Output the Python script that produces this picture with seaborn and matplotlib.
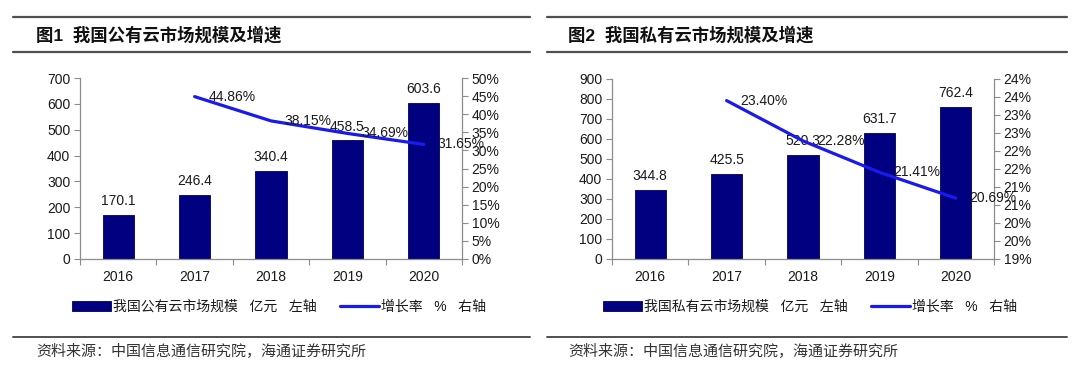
import numpy as np
import pandas as pd
import matplotlib
matplotlib.use("Agg")
import matplotlib.pyplot as plt
from matplotlib.lines import Line2D
from matplotlib.patches import Patch
from matplotlib.ticker import FixedLocator, NullFormatter
import seaborn as sns

# ---------------- data ----------------
years = ["2016", "2017", "2018", "2019", "2020"]
growth_years = ["2017", "2018", "2019", "2020"]

public_size = [170.1, 246.4, 340.4, 458.5, 603.6]
public_growth = [44.86, 38.15, 34.69, 31.65]

private_size = [344.8, 425.5, 520.3, 631.7, 762.4]
private_growth = [23.40, 22.28, 21.41, 20.69]

left_ticks_1 = [0, 100, 200, 300, 400, 500, 600, 700]
right_ticks_1 = [0, 5, 10, 15, 20, 25, 30, 35, 40, 45, 50]
right_labels_1 = ["0%", "5%", "10%", "15%", "20%", "25%", "30%", "35%", "40%", "45%", "50%"]

left_ticks_2 = [0, 100, 200, 300, 400, 500, 600, 700, 800, 900]
right_ticks_2 = [19, 19.5, 20, 20.5, 21, 21.5, 22, 22.5, 23, 23.5, 24]
right_labels_2 = ["19%", "20%", "20%", "21%", "21%", "22%", "22%", "23%", "23%", "24%", "24%"]

titles = ["图1  我国公有云市场规模及增速", "图2  我国私有云市场规模及增速"]
bar_names = ["我国公有云市场规模   亿元   左轴", "我国私有云市场规模   亿元   左轴"]
line_name = "增长率   %   右轴"
source = "资料来源：中国信息通信研究院，海通证券研究所"

# ---------------- style ----------------
sns.set_theme(style="white")
plt.rcParams["font.family"] = ["Liberation Sans", "Noto Sans CJK SC", "DejaVu Sans"]

NAVY = "#000080"
BLUE = "#1a1aee"
GRAY = "#8c8c8c"
TXT = "#1a1a1a"
RULE = "#505050"

W, H = 1080, 377
fig = plt.figure(figsize=(W / 100, H / 100), dpi=100)


def fx(px):
    return px / W


def fy(py):
    return 1 - py / H


def hline(x0, x1, y, lw=1.4):
    fig.add_artist(Line2D([fx(x0), fx(x1)], [fy(y), fy(y)], transform=fig.transFigure,
                          color=RULE, lw=lw))


def panel(ax_px, sizes, growth, lticks, rticks, rlabels, rlim, title, bar_name,
          rule_x, title_x, legend_cx):
    l, r, t, b = ax_px
    ax = fig.add_axes([fx(l), fy(b), fx(r - l), (b - t) / H])
    sns.barplot(x=years, y=sizes, order=years, ax=ax, color=NAVY, saturation=1,
                width=0.41, edgecolor="#000050", linewidth=0.6)
    ax2 = ax.twinx()
    sns.pointplot(x=growth_years, y=growth, order=years, ax=ax2, color=BLUE,
                  markers="", linewidth=2.3, errorbar=None)

    ax.set_xlim(-0.5, len(years) - 0.5)
    ax.set_ylim(lticks[0], lticks[-1])
    ax.set_yticks(lticks)
    ax.set_yticklabels([str(v) for v in lticks])
    ax2.set_ylim(*rlim)
    ax2.set_yticks(rticks)
    ax2.set_yticklabels(rlabels)

    # category tick marks at category boundaries
    ax.xaxis.set_minor_locator(FixedLocator(np.arange(len(years) + 1) - 0.5))
    ax.xaxis.set_minor_formatter(NullFormatter())
    ax.tick_params(axis="x", which="major", length=0, pad=8, labelsize=10, labelcolor=TXT)
    ax.tick_params(axis="x", which="minor", length=4, width=0.8, color=GRAY, direction="out",
                   bottom=True)
    ax.tick_params(axis="y", length=4, width=0.8, color=GRAY, direction="out", pad=3,
                   labelsize=10, labelcolor=TXT, left=True)
    ax2.tick_params(axis="y", length=4, width=0.8, color=GRAY, direction="out", pad=3,
                    labelsize=10, labelcolor=TXT, right=True)
    ax.set_xlabel("")
    ax.set_ylabel("")
    ax2.set_ylabel("")

    for s in ["top", "right"]:
        ax.spines[s].set_visible(False)
    for s in ["top", "left", "bottom"]:
        ax2.spines[s].set_visible(False)
    for sp in [ax.spines["left"], ax.spines["bottom"], ax2.spines["right"]]:
        sp.set_color(GRAY)
        sp.set_linewidth(0.9)

    ax.bar_label(ax.containers[0], labels=[f"{v:.1f}" for v in sizes], padding=5,
                 fontsize=10, color=TXT)
    for yr, g in zip(growth_years, growth):
        ax2.annotate(f"{g:.2f}%", xy=(years.index(yr), g), xytext=(10, 0),
                     textcoords="offset points", ha="left", va="center",
                     fontsize=10, color=TXT)

    # header / footer
    hline(rule_x[0], rule_x[1], 17, lw=1.6)
    hline(rule_x[0], rule_x[1], 52, lw=1.6)
    fig.text(fx(title_x), fy(35), title, fontsize=12.5, fontweight="bold",
             color="#111111", ha="left", va="center")
    hline(rule_x[0], rule_x[1], 337, lw=1.4)
    fig.text(fx(title_x), fy(352), source, fontsize=10.8, color="#333333",
             ha="left", va="center")

    handles = [Patch(facecolor=NAVY, edgecolor="#000050", linewidth=0.6),
               Line2D([0], [0], color=BLUE, lw=2.3)]
    fig.legend(handles, [bar_name, line_name], loc="center",
               bbox_to_anchor=(fx(legend_cx), fy(307)), ncol=2, frameon=False,
               fontsize=10, handlelength=2.8, handletextpad=0.15, columnspacing=1.7,
               labelcolor=TXT)


panel((80, 462, 78, 259), public_size, public_growth, left_ticks_1, right_ticks_1,
      right_labels_1, (0, 50), titles[0], bar_names[0], (13, 530), 36, 279)
panel((612, 994, 79, 259), private_size, private_growth, left_ticks_2, right_ticks_2,
      right_labels_2, (19, 24), titles[1], bar_names[1], (547, 1067), 568, 810)

fig.savefig("out.png", dpi=100, facecolor="white")
